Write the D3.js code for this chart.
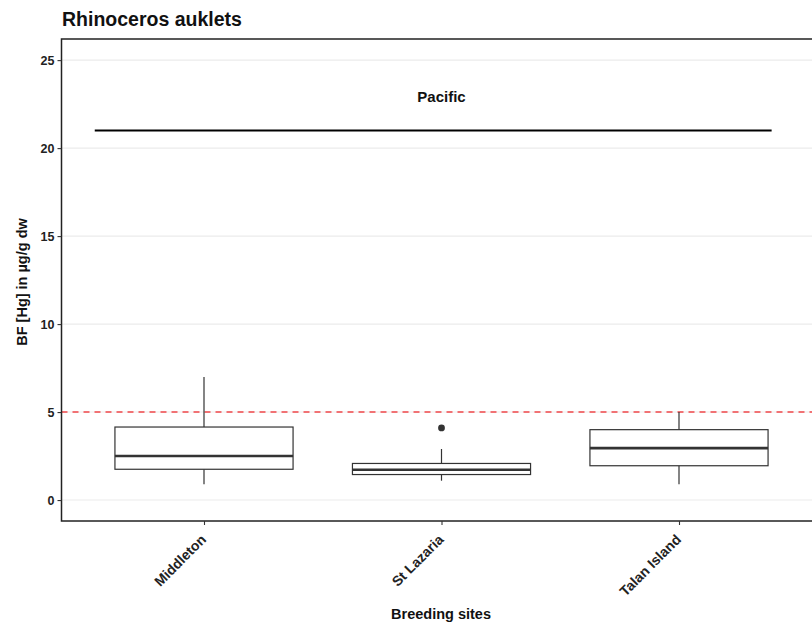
<!DOCTYPE html>
<html><head><meta charset="utf-8">
<script src="https://cdn.jsdelivr.net/npm/d3@7"></script>
<style>body{margin:0;background:#fff;} text{font-family:"Liberation Sans",Arial,sans-serif;}</style>
</head><body>
<svg id="c" width="812" height="628"></svg>
<script>
const sites = ["Middleton", "St Lazaria", "Talan Island"];
const lowerWhisker = [0.9, 1.1, 0.9];
const q1 = [1.75, 1.45, 1.95];
const median = [2.5, 1.72, 2.95];
const q3 = [4.15, 2.08, 4.0];
const upperWhisker = [7.0, 2.9, 5.0];
const outliers = [[], [4.1], []];
const yTicks = [0, 5, 10, 15, 20, 25];
const threshold = 5;
const regionLabel = "Pacific";
const regionValue = 21;
const regionLabelValue = 22.9;
const regionSpan = [0.54, 3.39];

const svg = d3.select("#c");
const L = 61.5, R = 821.5, T = 39, B = 521;
const y = d3.scaleLinear().domain([-1.19, 26.2]).range([B, T]);
const x = d3.scalePoint().domain(sites).range([L, R]).padding(0.6);
const xNum = d3.scaleLinear().domain([0.4, 3.6]).range([L, R]);
const bw = x.step() * 0.75;

// grid
svg.append("g").selectAll("line").data(yTicks).join("line")
  .attr("x1", L).attr("x2", R).attr("y1", d => y(d)).attr("y2", d => y(d))
  .attr("stroke", "#ebebeb").attr("stroke-width", 1.1);

// threshold
svg.append("line").attr("x1", L).attr("x2", R).attr("y1", y(threshold)).attr("y2", y(threshold))
  .attr("stroke", "#f0474a").attr("stroke-width", 1.6).attr("stroke-dasharray", "6,5");

// region line and label
svg.append("line").attr("x1", xNum(regionSpan[0])).attr("x2", xNum(regionSpan[1]))
  .attr("y1", y(regionValue)).attr("y2", y(regionValue))
  .attr("stroke", "#000").attr("stroke-width", 2.2);
svg.append("text").attr("x", x(sites[1])).attr("y", y(regionLabelValue)).attr("dy", "0.35em")
  .attr("text-anchor", "middle").attr("font-size", 15).attr("font-weight", "bold").attr("fill", "#111")
  .text(regionLabel);

// boxplots
const g = svg.append("g");
sites.forEach((s, i) => {
  const cx = x(s);
  g.append("line").attr("x1", cx).attr("x2", cx).attr("y1", y(q3[i])).attr("y2", y(upperWhisker[i]))
    .attr("stroke", "#333").attr("stroke-width", 1.2);
  g.append("line").attr("x1", cx).attr("x2", cx).attr("y1", y(q1[i])).attr("y2", y(lowerWhisker[i]))
    .attr("stroke", "#333").attr("stroke-width", 1.2);
  g.append("rect").attr("x", cx - bw / 2).attr("width", bw)
    .attr("y", y(q3[i])).attr("height", y(q1[i]) - y(q3[i]))
    .attr("fill", "#fff").attr("stroke", "#333").attr("stroke-width", 1.2);
  g.append("line").attr("x1", cx - bw / 2).attr("x2", cx + bw / 2).attr("y1", y(median[i])).attr("y2", y(median[i]))
    .attr("stroke", "#333").attr("stroke-width", 2.6);
  outliers[i].forEach(o => {
    g.append("circle").attr("cx", cx).attr("cy", y(o)).attr("r", 3.4).attr("fill", "#333");
  });
});

// panel border
svg.append("rect").attr("x", L).attr("y", T).attr("width", R - L).attr("height", B - T)
  .attr("fill", "none").attr("stroke", "#222").attr("stroke-width", 1.5);

// y axis
const ya = svg.append("g").attr("transform", `translate(${L},0)`)
  .call(d3.axisLeft(y).tickValues(yTicks).tickSize(4).tickPadding(3));
ya.select(".domain").remove();
ya.selectAll("line").attr("stroke", "#333").attr("stroke-width", 1.1);
ya.selectAll("text").attr("font-size", 12.5).attr("font-weight", "bold").attr("fill", "#222")
  .attr("font-family", "Liberation Sans, Arial, sans-serif");

// x axis
const xa = svg.append("g").attr("transform", `translate(0,${B})`)
  .call(d3.axisBottom(x).tickSize(4).tickPadding(3));
xa.select(".domain").remove();
xa.selectAll("line").attr("stroke", "#333").attr("stroke-width", 1.1);
xa.selectAll("text").attr("font-size", 14).attr("font-weight", "bold").attr("fill", "#222")
  .attr("font-family", "Liberation Sans, Arial, sans-serif")
  .attr("text-anchor", "end").attr("y", 0).attr("dy", "0.35em")
  .attr("transform", "translate(-1,16) rotate(-45)");

// titles
svg.append("text").attr("x", 62).attr("y", 26).attr("font-size", 19.5).attr("font-weight", "bold")
  .attr("fill", "#111").text("Rhinoceros auklets");
svg.append("text").attr("x", 441).attr("y", 619).attr("text-anchor", "middle").attr("font-size", 14.5)
  .attr("font-weight", "bold").attr("fill", "#111").text("Breeding sites");
svg.append("text").attr("transform", `translate(27,${(T + B) / 2 + 2}) rotate(-90)`).attr("text-anchor", "middle")
  .attr("font-size", 14.5).attr("font-weight", "bold").attr("fill", "#111").text("BF [Hg] in µg/g dw");
</script>
</body></html>
